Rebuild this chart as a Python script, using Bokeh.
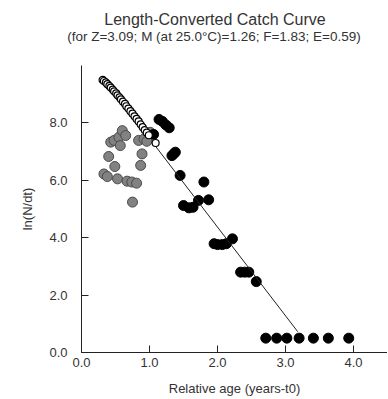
from bokeh.plotting import figure
from bokeh.layouts import column
from bokeh.models import FixedTicker, NumeralTickFormatter, Range1d, Div
from bokeh.embed import file_html
from bokeh.resources import INLINE

# ---- data ----
# points not used in the regression, ascending left limb (gray)
x_gray = [0.33, 0.38, 0.40, 0.43, 0.48, 0.49, 0.53, 0.55, 0.57, 0.60, 0.65, 0.67,
          0.74, 0.81, 0.75, 0.84, 0.87, 0.89, 0.92, 0.96, 1.01]
y_gray = [6.22, 6.13, 6.83, 7.33, 7.39, 6.48, 6.05, 7.50, 7.21, 7.73, 7.56, 5.97,
          5.94, 5.90, 5.24, 7.39, 6.52, 6.92, 7.44, 7.36, 7.67]

# points not used (open circles)
x_open = [0.31, 0.33, 0.36, 0.38, 0.41, 0.43, 0.46, 0.48, 0.51, 0.53, 0.56, 0.58,
          0.61, 0.64, 0.66, 0.69, 0.72, 0.75, 0.78, 0.81, 0.84, 0.87, 0.90, 0.93,
          0.96, 0.99, 1.09]
y_open = [9.50, 9.46, 9.41, 9.35, 9.29, 9.23, 9.16, 9.10, 9.03, 8.96, 8.89, 8.82,
          8.74, 8.66, 8.58, 8.50, 8.41, 8.32, 8.23, 8.14, 8.05, 7.95, 7.85, 7.75,
          7.66, 7.57, 7.30]

# points used in the regression (black)
x_black = [1.06, 1.14, 1.19, 1.24, 1.29, 1.33, 1.36, 1.38, 1.45, 1.50, 1.58, 1.64,
           1.72, 1.80, 1.87, 1.95, 2.00, 2.07, 2.13, 2.22, 2.34, 2.40, 2.46, 2.57,
           2.71, 2.87, 3.02, 3.20, 3.41, 3.63, 3.93]
y_black = [7.60, 8.12, 8.05, 7.93, 7.83, 6.86, 6.93, 6.98, 6.17, 5.12, 5.04, 5.06,
           5.30, 5.94, 5.32, 3.79, 3.76, 3.76, 3.79, 3.96, 2.80, 2.80, 2.80, 2.47,
           0.50, 0.50, 0.50, 0.50, 0.50, 0.50, 0.50]

# regression line: ln(N/dt) = a - Z * t
fit_a = 10.55
fit_Z = 3.09
fit_x = [1.08, 3.18]
fit_y = [fit_a - fit_Z * t for t in fit_x]

x_ticks = [0, 1, 2, 3, 4]
y_ticks = [0, 2, 4, 6, 8]

title_text = "Length-Converted Catch Curve"
subtitle_text = "(for Z=3.09; M (at 25.0\u00b0C)=1.26; F=1.83; E=0.59)"

FONT = "Liberation Sans"
TXT = "#333333"

# ---- heading (title + subtitle) ----
head_html = (
    '<div style="position:relative;width:387px;height:65px;'
    "font-family:'Liberation Sans',sans-serif;color:#333333;\">"
    '<div style="position:absolute;left:215px;top:11px;transform:translateX(-50%);'
    'white-space:nowrap;font-size:16px;line-height:18px;">' + title_text + '</div>'
    '<div style="position:absolute;left:214px;top:29px;transform:translateX(-50%);'
    'white-space:nowrap;font-size:13.5px;line-height:16px;">' + subtitle_text + '</div>'
    '</div>'
)
head = Div(text=head_html, width=387, height=65, margin=0)

# ---- main plot ----
p = figure(frame_width=306, frame_height=287,
           x_range=Range1d(0, 4.5), y_range=Range1d(0, 10),
           output_backend="svg", toolbar_location=None,
           min_border_left=81, min_border_right=0,
           min_border_top=0, min_border_bottom=46)

p.outline_line_color = None
p.grid.visible = False
p.background_fill_color = "white"
p.border_fill_color = "white"

for ax, ticks in ((p.xaxis[0], x_ticks), (p.yaxis[0], y_ticks)):
    ax.ticker = FixedTicker(ticks=ticks)
    ax.formatter = NumeralTickFormatter(format="0.0")
    ax.major_tick_in = 7
    ax.major_tick_out = 0
    ax.minor_tick_line_color = None
    ax.axis_line_color = "#222222"
    ax.major_tick_line_color = "#222222"
    ax.major_label_text_font = FONT
    ax.major_label_text_font_size = "13px"
    ax.major_label_text_color = TXT
    ax.axis_label_text_font = FONT
    ax.axis_label_text_font_size = "13px"
    ax.axis_label_text_font_style = "normal"
    ax.axis_label_text_color = TXT

p.xaxis.axis_label = "Relative age (years-t0)"
p.yaxis.axis_label = "ln(N/dt)"
p.xaxis.major_label_standoff = 5
p.xaxis.axis_label_standoff = 11
p.yaxis.major_label_standoff = 14
p.yaxis.axis_label_standoff = 11

p.scatter(x_gray, y_gray, size=10, fill_color="#828282", line_color="#4a4a4a", line_width=1)
p.scatter(x_black, y_black, size=10, fill_color="black", line_color="black", line_width=1)
p.line(fit_x, fit_y, line_color="#222222", line_width=1)
p.scatter(x_open, y_open, size=7, fill_color="white", line_color="black", line_width=1.2)

layout = column(head, p, spacing=0)
open("out.html", "w").write(file_html(layout, INLINE))
